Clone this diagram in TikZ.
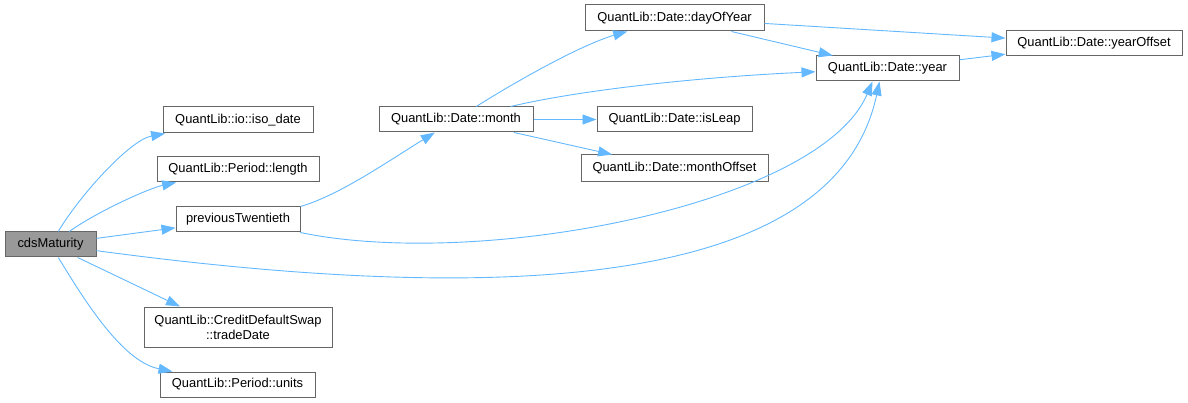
\documentclass[tikz,border=0pt]{standalone}
\usepackage{fontspec}
\setmainfont{Liberation Sans}
\usetikzlibrary{arrows.meta}
\definecolor{edgec}{HTML}{63B8FF}
\definecolor{boxc}{HTML}{666666}
\definecolor{cdsfill}{HTML}{999999}
\begin{document}
\begin{tikzpicture}[x=1pt,y=-1pt,
  fn/.style={draw=boxc,line width=1pt,fill=white,rectangle,inner sep=0pt,
    font=\fontsize{12.9}{15}\selectfont,align=center},
  call/.style={draw=edgec,line width=0.9pt,-{Triangle[length=14pt,width=10pt]}}]
\useasboundingbox (0,0) rectangle (1188,403);
\node[fn,fill=cdsfill,minimum width=91pt,minimum height=25pt] (cds) at (50.5,244.5) {cdsMaturity};
\node[fn,minimum width=150pt,minimum height=26pt] (iso) at (238,120) {QuantLib::io::iso\_date};
\node[fn,minimum width=162pt,minimum height=25pt] (len) at (238,169.5) {QuantLib::Period::length};
\node[fn,minimum width=124pt,minimum height=25pt] (prev) at (238,219.5) {previousTwentieth};
\node[fn,minimum width=188pt,minimum height=40pt] (trade) at (238,327) {QuantLib::CreditDefaultSwap\\::tradeDate};
\node[fn,minimum width=155pt,minimum height=25pt] (units) at (237.5,384.5) {QuantLib::Period::units};
\node[fn,minimum width=154pt,minimum height=25pt] (month) at (456,119.5) {QuantLib::Date::month};
\node[fn,minimum width=179pt,minimum height=26pt] (doy) at (674.5,18) {QuantLib::Date::dayOfYear};
\node[fn,minimum width=155pt,minimum height=25pt] (isleap) at (674.5,119.5) {QuantLib::Date::isLeap};
\node[fn,minimum width=187pt,minimum height=27pt] (moff) at (674.5,168.5) {QuantLib::Date::monthOffset};
\node[fn,minimum width=143pt,minimum height=25pt] (year) at (887.5,68.5) {QuantLib::Date::year};
\node[fn,minimum width=176pt,minimum height=25pt] (yoff) at (1094,43.5) {QuantLib::Date::yearOffset};

\draw[call] (cds) .. controls (80,195) and (130,140) .. (iso);
\draw[call] (cds) .. controls (100,210) and (150,188) .. (len);
\draw[call] (cds) -- (prev);
\draw[call] (cds) .. controls (500,305) and (835,290) .. ([xshift=-8pt]year.south);
\draw[call] (cds) -- ([xshift=-58pt]trade.north);
\draw[call] (cds) .. controls (90,310) and (125,362) .. (units);
\draw[call] (prev.north east) .. controls (340,195) and (390,160) .. (month);
\draw[call] (prev) .. controls (480,270) and (820,205) .. ([xshift=-15pt]year.south);
\draw[call] (month) .. controls (510,85) and (580,45) .. (doy);
\draw[call] (month) .. controls (580,90) and (700,77) .. (year);
\draw[call] (month) -- (isleap);
\draw[call] (month) -- (moff);
\draw[call] (doy) -- (yoff);
\draw[call] (doy) -- (year);
\draw[call] (year) -- (yoff);
\end{tikzpicture}
\end{document}
